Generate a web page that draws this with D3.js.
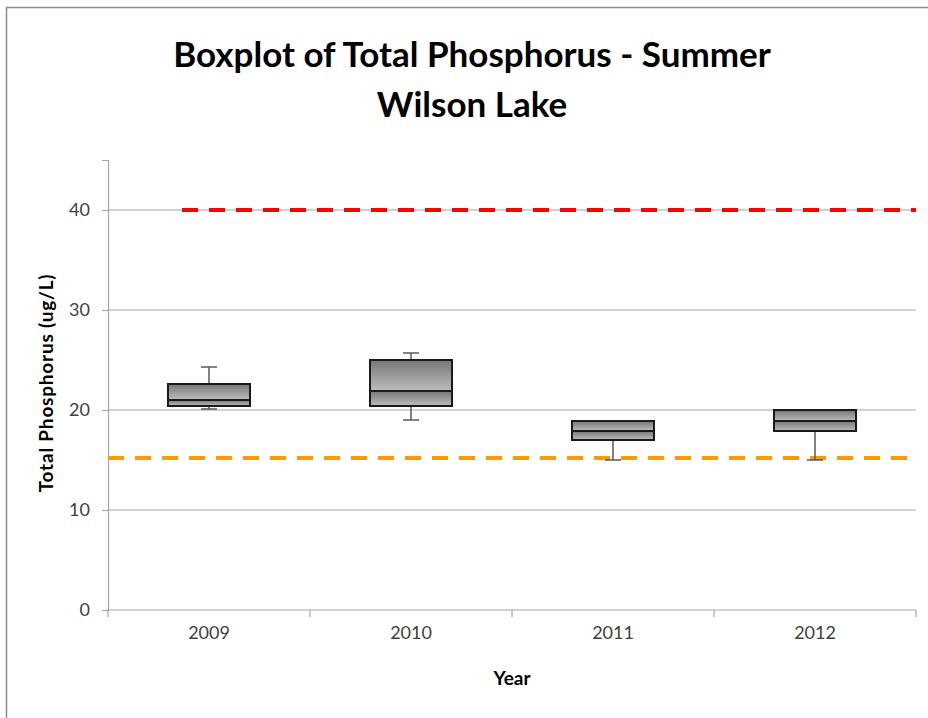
<!DOCTYPE html>
<html>
<head>
<meta charset="utf-8">
<script src="https://cdn.jsdelivr.net/npm/d3@7"></script>
<style>
  body { margin: 0; background: #fff; }
  text { font-family: Lato, "Open Sans", sans-serif; }
</style>
</head>
<body>
<div id="chart"></div>
<script>
var chart_width  = 928;
var chart_height = 718;

// data
var years       = ['2009', '2010', '2011', '2012'];
var whisker_low = [20.1, 19.0, 15.0, 15.0];
var q1          = [20.4, 20.4, 17.0, 17.9];
var medians     = [21.0, 21.9, 17.9, 18.9];
var q3          = [22.6, 25.0, 18.9, 20.0];
var whisker_hi  = [24.3, 25.7, 18.9, 20.0];
var y_ticks     = [0, 10, 20, 30, 40];
var upper_limit = 40;
var lower_limit = 15.2;

var margin = {left: 108, right: 12, top: 160, bottom: 108};

var svg = d3.select('#chart')
    .append('svg')
    .attr('width', chart_width)
    .attr('height', chart_height);

// gradient for boxes
var grad = svg.append('defs').append('linearGradient')
    .attr('id', 'boxfill')
    .attr('x1', 0).attr('y1', 0).attr('x2', 0).attr('y2', 1);
grad.append('stop').attr('offset', '0%').attr('stop-color', '#767676');
grad.append('stop').attr('offset', '100%').attr('stop-color', '#bdbdbd');

// outer frame
svg.append('rect')
    .attr('x', 6.5).attr('y', 7.5)
    .attr('width', chart_width + 10).attr('height', chart_height + 10)
    .attr('fill', 'none')
    .attr('stroke', '#8c8c8c')
    .attr('stroke-width', 1.5);

var x_scale = d3.scaleBand()
    .domain(years)
    .range([margin.left, chart_width - margin.right]);

var y_scale = d3.scaleLinear()
    .domain([0, 45])
    .range([chart_height - margin.bottom, margin.top]);

// gridlines
svg.append('g')
    .selectAll('line')
    .data(y_ticks.filter(d => d > 0))
    .enter()
    .append('line')
    .attr('x1', margin.left)
    .attr('x2', chart_width - margin.right)
    .attr('y1', d => y_scale(d))
    .attr('y2', d => y_scale(d))
    .attr('stroke', '#a6a6a6')
    .attr('stroke-width', 1.2);

// y axis
var y_axis = d3.axisLeft(y_scale)
    .tickValues(y_ticks)
    .tickSize(6)
    .tickPadding(12);

var yg = svg.append('g')
    .attr('transform', `translate(${margin.left}, 0)`)
    .call(y_axis);

// x axis
var x_axis = d3.axisBottom(x_scale)
    .tickSize(0)
    .tickPadding(16);

var xg = svg.append('g')
    .attr('transform', `translate(0, ${chart_height - margin.bottom})`)
    .call(x_axis);

// boundary ticks between categories
xg.selectAll('.bound')
    .data(years.concat(['end']))
    .enter()
    .append('line')
    .attr('class', 'bound')
    .attr('x1', (d, i) => i < years.length ? x_scale(d) : x_scale.range()[1])
    .attr('x2', (d, i) => i < years.length ? x_scale(d) : x_scale.range()[1])
    .attr('y1', 0)
    .attr('y2', 7)
    .attr('stroke', '#a6a6a6')
    .attr('stroke-width', 1.2);

[yg, xg].forEach(g => {
    g.select('.domain').attr('stroke', '#a6a6a6').attr('stroke-width', 1.2);
    g.selectAll('.tick line').attr('stroke', '#a6a6a6').attr('stroke-width', 1.2);
    g.selectAll('.tick text')
        .attr('fill', '#404040')
        .style('font-size', '18px')
        .style('font-family', 'Lato, "Open Sans", sans-serif');
});
xg.select('.domain').attr('d', `M${x_scale.range()[0]},0H${x_scale.range()[1]}`);

// limit lines
svg.append('line')
    .attr('x1', x_scale('2009') + 74)
    .attr('x2', x_scale.range()[1])
    .attr('y1', y_scale(upper_limit))
    .attr('y2', y_scale(upper_limit))
    .attr('stroke', '#ff0000')
    .attr('stroke-width', 4)
    .attr('stroke-dasharray', '16 11');

svg.append('line')
    .attr('x1', x_scale.range()[0])
    .attr('x2', x_scale.range()[1])
    .attr('y1', y_scale(lower_limit))
    .attr('y2', y_scale(lower_limit))
    .attr('stroke', '#ff9900')
    .attr('stroke-width', 4)
    .attr('stroke-dasharray', '16 11');

// boxes
var box_w = 82;
var boxes = svg.append('g')
    .selectAll('g')
    .data(years)
    .enter()
    .append('g')
    .attr('transform', d => `translate(${x_scale(d) + x_scale.bandwidth() / 2}, 0)`);

// whiskers
boxes.append('line')
    .attr('x1', 0).attr('x2', 0)
    .attr('y1', (d, i) => y_scale(whisker_hi[i]))
    .attr('y2', (d, i) => y_scale(whisker_low[i]))
    .attr('stroke', '#595959')
    .attr('stroke-width', 1.5);

boxes.append('line')
    .attr('x1', -8).attr('x2', 8)
    .attr('y1', (d, i) => y_scale(whisker_hi[i]))
    .attr('y2', (d, i) => y_scale(whisker_hi[i]))
    .attr('stroke', '#595959')
    .attr('stroke-width', 1.5);

boxes.append('line')
    .attr('x1', -8).attr('x2', 8)
    .attr('y1', (d, i) => y_scale(whisker_low[i]))
    .attr('y2', (d, i) => y_scale(whisker_low[i]))
    .attr('stroke', '#595959')
    .attr('stroke-width', 1.5);

// upper half
boxes.append('rect')
    .attr('x', -box_w / 2)
    .attr('width', box_w)
    .attr('y', (d, i) => y_scale(q3[i]))
    .attr('height', (d, i) => y_scale(medians[i]) - y_scale(q3[i]))
    .attr('fill', 'url(#boxfill)')
    .attr('stroke', '#1a1a1a')
    .attr('stroke-width', 2);

// lower half
boxes.append('rect')
    .attr('x', -box_w / 2)
    .attr('width', box_w)
    .attr('y', (d, i) => y_scale(medians[i]))
    .attr('height', (d, i) => y_scale(q1[i]) - y_scale(medians[i]))
    .attr('fill', 'url(#boxfill)')
    .attr('stroke', '#1a1a1a')
    .attr('stroke-width', 2);

// titles
svg.append('text')
    .attr('x', 472).attr('y', 67)
    .attr('text-anchor', 'middle')
    .style('font-size', '35px')
    .style('font-weight', 'bold')
    .attr('fill', '#000')
    .text('Boxplot of Total Phosphorus - Summer');

svg.append('text')
    .attr('x', 472).attr('y', 117)
    .attr('text-anchor', 'middle')
    .style('font-size', '35px')
    .style('font-weight', 'bold')
    .attr('fill', '#000')
    .text('Wilson Lake');

svg.append('text')
    .attr('transform', `translate(53, ${y_scale(22.7)}) rotate(-90)`)
    .attr('text-anchor', 'middle')
    .style('font-size', '19px')
    .style('letter-spacing', '0.8px')
    .style('font-weight', 'bold')
    .attr('fill', '#000')
    .text('Total Phosphorus (ug/L)');

svg.append('text')
    .attr('x', (x_scale.range()[0] + x_scale.range()[1]) / 2)
    .attr('y', 685)
    .attr('text-anchor', 'middle')
    .style('font-size', '19px')
    .style('font-weight', 'bold')
    .attr('fill', '#000')
    .text('Year');
</script>
</body>
</html>
